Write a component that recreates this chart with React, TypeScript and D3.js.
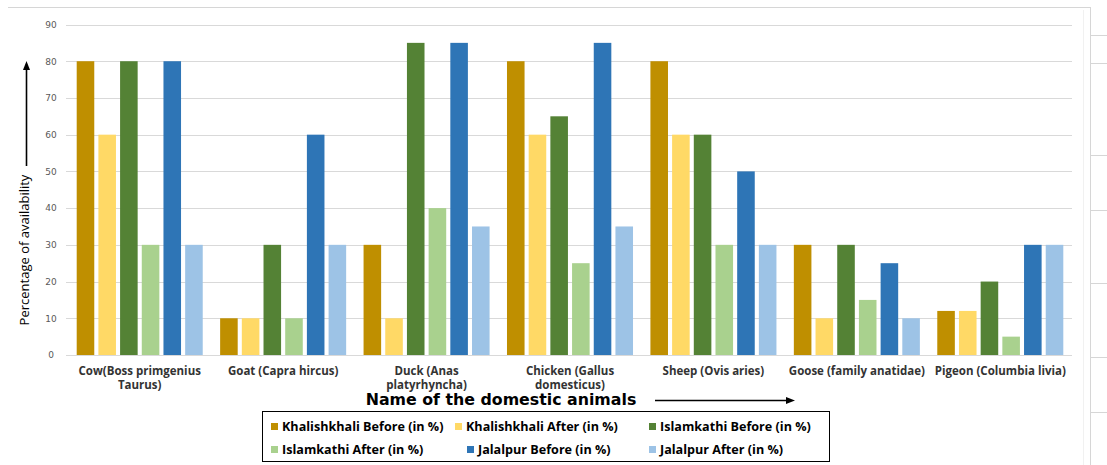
import React from "react";
import * as d3 from "d3";

// Animal categories (label lines as printed under each group)
const categories = [
  "Cow",
  "Goat",
  "Duck",
  "Chicken",
  "Sheep",
  "Goose",
  "Pigeon",
];
const categoryLabels: string[][] = [
  ["Cow(Boss primgenius", "Taurus)"],
  ["Goat (Capra hircus)"],
  ["Duck (Anas", "platyrhyncha)"],
  ["Chicken (Gallus", "domesticus)"],
  ["Sheep (Ovis aries)"],
  ["Goose (family anatidae)"],
  ["Pigeon (Columbia livia)"],
];

// Availability (%) per village, before and after
const khalishkhaliBefore = [80, 10, 30, 80, 80, 30, 12];
const khalishkhaliAfter = [60, 10, 10, 60, 60, 10, 12];
const islamkathiBefore = [80, 30, 85, 65, 60, 30, 20];
const islamkathiAfter = [30, 10, 40, 25, 30, 15, 5];
const jalalpurBefore = [80, 60, 85, 85, 50, 25, 30];
const jalalpurAfter = [30, 30, 35, 35, 30, 10, 30];

const seriesNames = [
  "Khalishkhali Before (in %)",
  "Khalishkhali After (in %)",
  "Islamkathi Before (in %)",
  "Islamkathi After (in %)",
  "Jalalpur Before (in %)",
  "Jalalpur After (in %)",
];
const seriesValues = [
  khalishkhaliBefore,
  khalishkhaliAfter,
  islamkathiBefore,
  islamkathiAfter,
  jalalpurBefore,
  jalalpurAfter,
];
const seriesColors = ["#bf8f00", "#ffd966", "#548235", "#a9d18e", "#2e75b6", "#9dc3e6"];

const yTicks = [0, 10, 20, 30, 40, 50, 60, 70, 80, 90];

const W = 1107;
const H = 465;

export default function App() {
  const plotLeft = 68;
  const plotRight = 1072;
  const x0 = d3.scaleBand<string>().domain(categories).range([plotLeft, plotRight]);
  const groupPad = 8.7;
  const x1 = d3
    .scaleBand<string>()
    .domain(seriesNames)
    .range([groupPad, x0.bandwidth() - groupPad])
    .paddingInner(0.19);
  const y = d3.scaleLinear().domain([0, 90]).range([355, 24.5]);

  const gridColor = "#d9d9d9";
  const frameColor = "#d6d6d6";
  const sideStubs = [35, 63, 155, 210, 283, 357, 412];

  // legend layout: two rows of three entries (text start positions)
  const legendCols = [
    [282, 466, 660],
    [282, 478, 660],
  ];
  const legendRows = [431, 454];

  return (
    <svg
      width={W}
      height={H}
      style={{ position: "absolute", left: 0, top: 0, background: "#fff" }}
      fontFamily="'Open Sans', sans-serif"
    >
      <rect x={0} y={0} width={W} height={H} fill="#fff" />

      {/* outer frame */}
      <line x1={8} x2={1090} y1={7.5} y2={7.5} stroke={frameColor} />
      <line x1={1090.5} x2={1090.5} y1={7} y2={H} stroke={frameColor} />
      <line x1={1083.5} x2={1083.5} y1={10} y2={H} stroke="#f1f1f1" />
      {sideStubs.map((sy, i) => (
        <line key={i} x1={1091} x2={W} y1={sy + 0.5} y2={sy + 0.5} stroke={frameColor} />
      ))}

      {/* gridlines */}
      {yTicks.map((t) => (
        <line
          key={t}
          x1={66}
          x2={plotRight}
          y1={Math.round(y(t)) + 0.5}
          y2={Math.round(y(t)) + 0.5}
          stroke={gridColor}
          strokeWidth={1}
        />
      ))}

      {/* y tick labels */}
      {yTicks.map((t) => (
        <text
          key={t}
          x={51}
          y={y(t) + 3.3}
          textAnchor="middle"
          fontFamily="'DejaVu Sans', sans-serif"
          fontSize={9}
          fill="#595959"
        >
          {t}
        </text>
      ))}

      {/* bars */}
      {categories.map((c, ci) => (
        <g key={c} transform={`translate(${x0(c)},0)`}>
          {seriesNames.map((s, si) => {
            const v = seriesValues[si][ci];
            return (
              <rect
                key={s}
                x={x1(s)}
                y={y(v)}
                width={x1.bandwidth()}
                height={y(0) - y(v)}
                fill={seriesColors[si]}
              />
            );
          })}
        </g>
      ))}

      {/* category labels */}
      {categories.map((c, ci) => (
        <text
          key={c}
          x={(x0(c) as number) + x0.bandwidth() / 2}
          textAnchor="middle"
          fontSize={11.5}
          fontWeight={700}
          fill="#333"
        >
          {categoryLabels[ci].map((ln, li) => (
            <tspan key={li} x={(x0(c) as number) + x0.bandwidth() / 2} y={375 + li * 13.5}>
              {ln}
            </tspan>
          ))}
        </text>
      ))}

      {/* y axis title and arrow */}
      <text
        transform="translate(29,250) rotate(-90)"
        textAnchor="middle"
        fontSize={13}
        fill="#000"
      >
        Percentage of availability
      </text>
      <line x1={26.5} x2={26.5} y1={166} y2={68} stroke="#000" strokeWidth={1.6} />
      <path d="M26.5,61 L23,70 L30,70 Z" fill="#000" />

      {/* x axis title and arrow */}
      <text
        x={501}
        y={405}
        textAnchor="middle"
        fontFamily="'DejaVu Sans', sans-serif"
        fontSize={15.8}
        fontWeight={700}
        fill="#000"
      >
        Name of the domestic animals
      </text>
      <line x1={655} x2={788} y1={400.5} y2={400.5} stroke="#000" strokeWidth={1.4} />
      <path d="M795,400.5 L786,397 L786,404 Z" fill="#000" />

      {/* legend */}
      <rect x={262.5} y={411.5} width={567} height={50} fill="none" stroke="#000" strokeWidth={1} />
      {seriesNames.map((s, i) => {
        const row = Math.floor(i / 3);
        const col = i % 3;
        const lx = legendCols[row][col];
        const ly = legendRows[row];
        return (
          <g key={s}>
            <rect x={lx - 11} y={ly - 8} width={7} height={7} fill={seriesColors[i]} />
            <text x={lx} y={ly} fontSize={12.6} fontWeight={700} fill="#000">
              {s}
            </text>
          </g>
        );
      })}
    </svg>
  );
}
